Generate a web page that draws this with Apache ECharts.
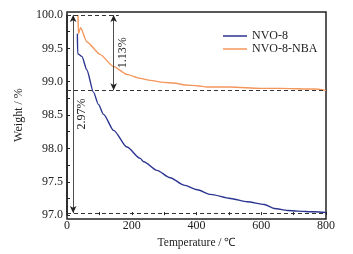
<!DOCTYPE html>
<html>
<head>
<meta charset="utf-8">
<script src="https://cdn.jsdelivr.net/npm/echarts@6/dist/echarts.min.js"></script>
<style>
    html, body { margin: 0; padding: 0; background: #fff; }
    #chart { width: 353px; height: 254px; }
</style>
</head>
<body>
<div id="chart"></div>
<script>
// TGA curves, [temperature, weight %]
var nvo8 = [
    [32, 99.72], [33, 99.42], [46, 99.38], [61, 99.18], [82, 98.84], [97, 98.66],
    [113, 98.51], [144, 98.27], [185, 98.02], [226, 97.85], [237, 97.80], [278, 97.67],
    [319, 97.56], [361, 97.45], [402, 97.38], [443, 97.31], [505, 97.25], [557, 97.20],
    [609, 97.16], [640, 97.10], [681, 97.07], [712, 97.06], [764, 97.05], [800, 97.04]
];
var nvo8Nba = [
    [34, 100.0], [35, 99.72], [42, 99.81], [61, 99.60], [102, 99.41], [143, 99.23],
    [185, 99.11], [226, 99.05], [257, 99.02], [298, 98.99], [329, 98.98], [366, 98.95],
    [402, 98.94], [433, 98.92], [505, 98.92], [598, 98.90], [660, 98.90], [763, 98.89],
    [800, 98.87]
];
var seriesNames = ['NVO-8', 'NVO-8-NBA'];

// annotation levels
var startLevel = 100.0;
var nbaLevel = 98.87;
var nvoLevel = 97.03;
var totalLossLabel = '2.97%';
var nbaLossLabel = '1.13%';
var totalArrowT = 19;
var nbaArrowT = 144;
var topDashEndT = 160;

var font = 'Liberation Serif';

var chart = echarts.init(document.getElementById('chart'));

var dashed = { color: '#333', type: [4, 3], width: 1 };
var arrowLine = { color: '#222', type: 'solid', width: 0.8 };

// drawn bottom -> top, label put on the right of the line
function arrow(t, yTop, yBottom, text) {
    return [
        {
            coord: [t, yBottom], symbol: 'arrow', symbolSize: [5, 7],
            lineStyle: arrowLine,
            label: {
                show: true, formatter: text, position: 'insideMiddleBottom',
                fontFamily: font, fontSize: 12, color: '#222', distance: 3
            }
        },
        { coord: [t, yTop], symbol: 'arrow', symbolSize: [5, 7] }
    ];
}

var option = {
    animation: false,
    textStyle: { fontFamily: font },
    grid: [
        { left: 67, right: 27, top: 15, bottom: 37 },
        { left: 67, right: 27, top: 12, bottom: 35, show: true, borderColor: '#222', borderWidth: 1.5, backgroundColor: 'transparent' }
    ],
    legend: {
        orient: 'vertical',
        left: 218,
        top: 25,
        icon: 'rect',
        itemWidth: 24,
        itemHeight: 1.5,
        itemGap: 1,
        textStyle: { fontFamily: font, fontSize: 12, color: '#222' },
        data: seriesNames
    },
    xAxis: [
        {
            type: 'value', gridIndex: 0, min: 0, max: 800, interval: 200,
            name: 'Temperature / ℃', nameLocation: 'middle', nameGap: 21,
            nameTextStyle: { fontFamily: font, fontSize: 11.5, color: '#222' },
            axisLine: { show: false },
            axisTick: { inside: true, length: 3, lineStyle: { color: '#222' } },
            minorTick: { show: true, splitNumber: 2, length: 3, lineStyle: { color: '#222' } },
            axisLabel: { margin: 5, fontFamily: font, fontSize: 12, color: '#222' },
            splitLine: { show: false }
        },
        { type: 'value', gridIndex: 1, min: 0, max: 1, show: false }
    ],
    yAxis: [
        {
            type: 'value', gridIndex: 0, min: 97, max: 100, interval: 0.5,
            name: 'Weight / %', nameLocation: 'middle', nameGap: 29,
            nameTextStyle: { fontFamily: font, fontSize: 12, color: '#222' },
            axisLine: { show: true, lineStyle: { color: '#222', width: 1.5 } },
            axisTick: { inside: true, length: 3, lineStyle: { color: '#222' } },
            minorTick: { show: true, splitNumber: 2, length: 3, lineStyle: { color: '#222' } },
            axisLabel: {
                margin: 4, fontFamily: font, fontSize: 12, color: '#222',
                formatter: function (v) { return v.toFixed(1); }
            },
            splitLine: { show: false }
        },
        { type: 'value', gridIndex: 1, min: 0, max: 1, show: false }
    ],
    series: [
        {
            name: seriesNames[0],
            type: 'line',
            data: nvo8,
            symbol: 'none',
            smooth: 0.25,
            smoothMonotone: 'x',
            color: '#2b3590',
            lineStyle: { color: '#2b3590', width: 1.4 },
            z: 3,
            markLine: {
                silent: true,
                symbol: 'none',
                label: { show: false },
                lineStyle: dashed,
                data: [
                    [{ coord: [0, startLevel] }, { coord: [topDashEndT, startLevel] }],
                    { yAxis: nbaLevel },
                    { yAxis: nvoLevel },
                    arrow(totalArrowT, startLevel, nvoLevel, totalLossLabel),
                    arrow(nbaArrowT, startLevel, nbaLevel, nbaLossLabel)
                ]
            }
        },
        {
            name: seriesNames[1],
            type: 'line',
            data: nvo8Nba,
            symbol: 'none',
            smooth: 0.2,
            smoothMonotone: 'x',
            color: '#f4975c',
            lineStyle: { color: '#f4975c', width: 1.4 },
            z: 2
        }
    ]
};

chart.setOption(option);
</script>
</body>
</html>
